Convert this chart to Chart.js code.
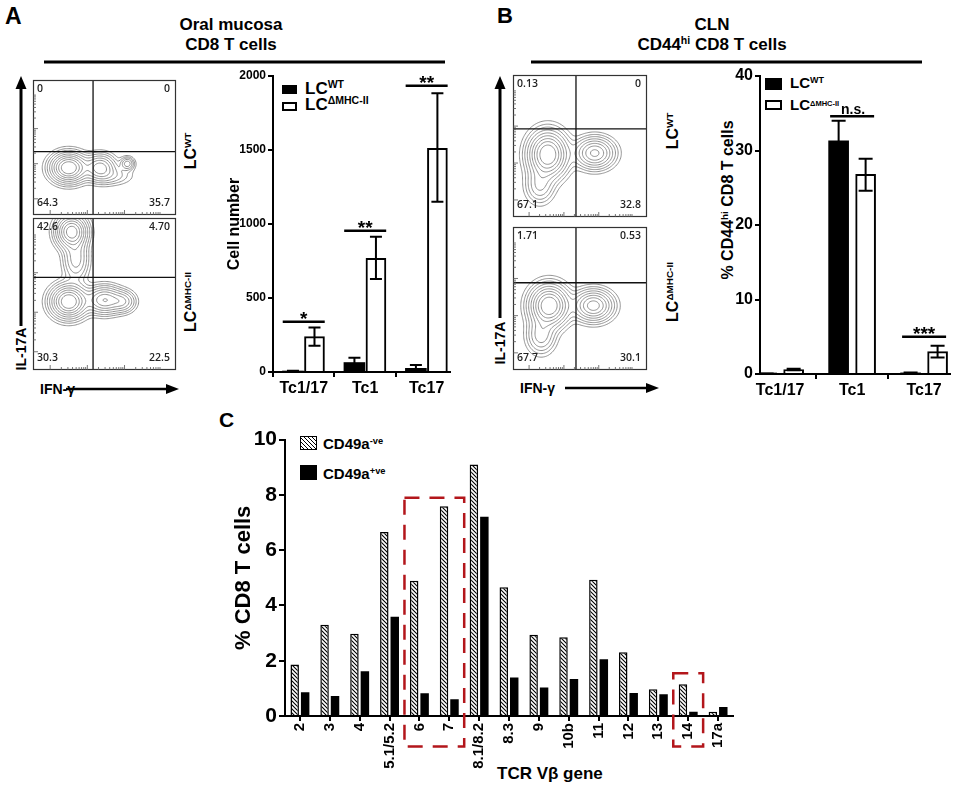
<!DOCTYPE html>
<html><head><meta charset="utf-8">
<script src="https://cdn.jsdelivr.net/npm/chart.js@4.4.0/dist/chart.umd.min.js"></script>
<style>
body{margin:0;background:#fff;}
#root{position:relative;width:959px;height:787px;overflow:hidden;font-family:'Liberation Sans',Arial,sans-serif;font-weight:bold;color:#000;background:#fff}
canvas{position:absolute;display:block}
.t{position:absolute;white-space:nowrap;line-height:1}
.c{position:absolute;white-space:nowrap;line-height:1;transform:translate(-50%,0);text-align:center}
.rot{position:absolute;white-space:nowrap;line-height:1;transform:translate(-50%,-50%) rotate(-90deg)}
sup{font-size:0.62em;vertical-align:0.55em;line-height:0}
.box{position:absolute;box-sizing:border-box}
svg{position:absolute;left:0;top:0}
</style></head>
<body><div id="root">
<svg width="959" height="787">
  <line x1="44" y1="62" x2="445" y2="62" stroke="#000" stroke-width="3"/>
  <line x1="531" y1="62" x2="922" y2="62" stroke="#000" stroke-width="3"/>
  <line x1="21" y1="326" x2="21" y2="86" stroke="#000" stroke-width="3"/>
  <polygon points="21,76 15.5,89 26.5,89" fill="#000"/>
  <line x1="500" y1="318" x2="500" y2="86" stroke="#000" stroke-width="3"/>
  <polygon points="500,76 494.5,89 505.5,89" fill="#000"/>
  <line x1="66" y1="389" x2="168" y2="389" stroke="#000" stroke-width="2.5"/>
  <polygon points="179,389 166,384 166,394" fill="#000"/>
  <line x1="565" y1="388" x2="648" y2="388" stroke="#000" stroke-width="2.5"/>
  <polygon points="659,388 646,383 646,393" fill="#000"/>
</svg>

<div class="t" style="left:5px;top:5px;font-size:23px">A</div>
<div class="t" style="left:497px;top:5px;font-size:22px">B</div>
<div class="t" style="left:219px;top:409px;font-size:21px">C</div>

<div class="c" style="left:231px;top:16px;font-size:17px">Oral mucosa</div>
<div class="c" style="left:231px;top:36px;font-size:17px">CD8 T cells</div>
<div class="c" style="left:712px;top:16px;font-size:17px">CLN</div>
<div class="c" style="left:712px;top:36px;font-size:17px">CD44<sup>hi</sup> CD8 T cells</div>

<div class="rot" style="left:191px;top:151px;font-size:16px">LC<sup>WT</sup></div>
<div class="rot" style="left:191px;top:302px;font-size:16px">LC<sup>ΔMHC-II</sup></div>
<div class="rot" style="left:673px;top:131px;font-size:16px">LC<sup>WT</sup></div>
<div class="rot" style="left:673px;top:292px;font-size:16px">LC<sup>ΔMHC-II</sup></div>

<div class="rot" style="left:21px;top:349px;font-size:14px">IL-17A</div>
<div class="rot" style="left:500px;top:343px;font-size:14px">IL-17A</div>
<div class="t" style="left:40px;top:382px;font-size:14px">IFN-γ</div>
<div class="t" style="left:520px;top:381px;font-size:14px">IFN-γ</div>

<div class="box" style="left:282px;top:85px;width:15px;height:9px;background:#000"></div>
<div class="t" style="left:305px;top:80px;font-size:17px">LC<sup>WT</sup></div>
<div class="box" style="left:282px;top:102px;width:15px;height:9px;background:#fff;border:2px solid #000"></div>
<div class="t" style="left:305px;top:96px;font-size:17px">LC<sup>ΔMHC-II</sup></div>

<div class="box" style="left:765px;top:78px;width:17px;height:12px;background:#000"></div>
<div class="t" style="left:790px;top:75px;font-size:15px">LC<sup style="font-size:9px">WT</sup></div>
<div class="box" style="left:765px;top:100px;width:17px;height:10px;background:#fff;border:2px solid #000"></div>
<div class="t" style="left:790px;top:97px;font-size:15px">LC<sup style="font-size:7.5px">ΔMHC-II</sup></div>
<div class="rot" style="left:728px;top:200px;font-size:16px">% CD44<sup>hi</sup> CD8 T cells</div>

<div class="box" style="left:300px;top:436px;width:17px;height:14px;border:1.5px solid #000;background:repeating-linear-gradient(45deg,#fff 0,#fff 1.6px,#000 1.6px,#000 2.8px)"></div>
<div class="t" style="left:323px;top:436px;font-size:15px">CD49a<sup>-ve</sup></div>
<div class="box" style="left:300px;top:465px;width:17px;height:15px;background:#000"></div>
<div class="t" style="left:323px;top:466px;font-size:15px">CD49a<sup>+ve</sup></div>
<div class="t" style="left:497px;top:765px;font-size:17px">TCR Vβ gene</div>

<canvas id="fA1" width="147" height="139" style="left:31px;top:78px"></canvas>
<canvas id="fA2" width="147" height="156" style="left:31px;top:216px"></canvas>
<canvas id="fB1" width="138" height="146" style="left:511px;top:73px"></canvas>
<canvas id="fB2" width="138" height="147" style="left:511px;top:225px"></canvas>
<canvas id="barA" width="265" height="345" style="left:200px;top:62px"></canvas>
<canvas id="barB" width="269" height="345" style="left:690px;top:62px"></canvas>
<canvas id="barC" width="530" height="362" style="left:220px;top:425px"></canvas>
</div>
<script>
// ---------------- DATA ----------------
// Panel A bar chart (cell number)
const catsA = ['Tc1/17', 'Tc1', 'Tc17'];
const wtA = [5, 64, 25];
const wtALow = [2, 30, 3];
const wtAHigh = [8, 97, 47];
const mhcA = [239, 768, 1511];
const mhcALow = [178, 628, 1151];
const mhcAHigh = [300, 914, 1883];
const sigALabels = ['*', '**', '**'];
const sigAY = [340, 955, 1934];
const ticksA = [0, 500, 1000, 1500, 2000];

// Panel B bar chart (% CD44hi CD8 T cells)
const catsB = ['Tc1/17', 'Tc1', 'Tc17'];
const wtB = [0.05, 31.3, 0.15];
const wtBLow = [0.02, 28.6, 0.1];
const wtBHigh = [0.08, 34.0, 0.2];
const mhcB = [0.6, 26.8, 3.0];
const mhcBLow = [0.5, 24.6, 2.2];
const mhcBHigh = [0.7, 28.9, 3.8];
const sigBLabels = [null, 'n.s.', '***'];
const sigBY = [null, 34.6, 5.0];
const ticksB = [0, 10, 20, 30, 40];

// Panel C (TCR Vbeta usage)
const catsC = ['2', '3', '4', '5.1/5.2', '6', '7', '8.1/8.2', '8.3', '9', '10b', '11', '12', '13', '14', '17a'];
const cd49aNeg = [1.86, 3.3, 2.98, 6.66, 4.89, 7.59, 9.1, 4.66, 2.94, 2.85, 4.93, 2.31, 0.97, 1.15, 0.15];
const cd49aPos = [0.86, 0.72, 1.62, 3.59, 0.82, 0.61, 7.21, 1.39, 1.03, 1.34, 2.05, 0.83, 0.79, 0.15, 0.33];
const redBoxFrom = [3.5, 12.5];
const redBoxTo = [5.5, 13.5];
const redBoxTop = [7.9, 1.55];
const redBoxBottom = [-1.1, -1.1];

// Flow cytometry plots (IFN-gamma vs IL-17A, % of gate)
const flowIds = ['fA1', 'fA2', 'fB1', 'fB2'];
const gateX = [42, 42, 47, 47];
const gateY = [47, 61, 62, 61];
const quadUL = ['0', '42.6', '0.13', '1.71'];
const quadUR = ['0', '4.70', '0', '0.53'];
const quadLL = ['64.3', '30.3', '67.1', '67.7'];
const quadLR = ['35.7', '22.5', '32.8', '30.1'];
// population clusters: [centre x, centre y, spread x, spread y, weight]
const popsA1 = [[25, 35, 7, 6, 1], [47, 35, 6, 5.5, 0.55], [66, 38, 2.8, 2.8, 0.3], [56, 29, 8, 4, 0.12]];
const popsA2 = [[27, 91, 6, 6, 0.9], [30, 73, 5, 8, 0.3], [25, 45, 7, 6, 1], [50, 46, 7, 5, 0.6], [63, 45, 5, 4, 0.3]];
const popsB1 = [[26, 44, 8, 9, 1], [61, 45, 8, 6, 0.65], [20, 22, 6, 7, 0.25]];
const popsB2 = [[27, 45, 8, 8, 1], [60, 45, 8, 6, 0.7], [21, 24, 6, 7, 0.3]];
const flowPops = [popsA1, popsA2, popsB1, popsB2];
const contourLevels = [0.03, 0.06, 0.1, 0.16, 0.24, 0.34, 0.46, 0.6, 0.76];
const flowDecades = [12, 38, 64];

// ---------------- SETUP ----------------
const SANS = "'Liberation Sans', Arial, sans-serif";
Chart.defaults.font.family = SANS;
Chart.defaults.color = '#000';
Chart.defaults.animation = false;

const errPlugin = {
  id: 'errbars',
  afterDatasetsDraw(chart, args, opts) {
    const ctx = chart.ctx, ys = chart.scales.y, xs = chart.scales.x;
    ctx.save();
    ctx.strokeStyle = '#000';
    ctx.lineWidth = 2;
    opts.low.forEach((lows, di) => {
      const meta = chart.getDatasetMeta(di);
      meta.data.forEach((bar, i) => {
        const x = bar.x, yl = ys.getPixelForValue(lows[i]), yh = ys.getPixelForValue(opts.high[di][i]);
        const h = opts.cap / 2;
        ctx.beginPath();
        ctx.moveTo(x, yl); ctx.lineTo(x, yh);
        ctx.moveTo(x - h, yh); ctx.lineTo(x + h, yh);
        ctx.moveTo(x - h, yl); ctx.lineTo(x + h, yl);
        ctx.stroke();
      });
    });
    ctx.lineWidth = 2.5;
    ctx.fillStyle = '#000';
    ctx.textAlign = 'center';
    ctx.textBaseline = 'alphabetic';
    opts.sigLabels.forEach((lab, i) => {
      if (!lab) return;
      const cx = xs.getPixelForValue(i), py = ys.getPixelForValue(opts.sigY[i]);
      ctx.beginPath();
      ctx.moveTo(cx - opts.sigHalf, py); ctx.lineTo(cx + opts.sigHalf, py);
      ctx.stroke();
      if (lab.indexOf('*') >= 0) {
        ctx.font = 'bold 19px ' + SANS;
        ctx.fillText(lab, cx, py + 3);
      } else {
        ctx.font = 'bold 14px ' + SANS;
        ctx.fillText(lab, cx + 1, py - 2);
      }
    });
    ctx.restore();
  }
};

function barOptions(cfg) {
  return {
    responsive: false,
    animation: false,
    layout: { padding: cfg.padding },
    plugins: { legend: { display: false }, tooltip: { enabled: false }, errbars: cfg.err },
    scales: {
      x: {
        type: 'linear', min: cfg.xmin, max: cfg.xmax, offset: false,
        afterBuildTicks: s => { s.ticks = cfg.cats.map((c, i) => ({ value: i })); },
        afterFit: s => { s.height = cfg.xh; },
        ticks: { callback: v => cfg.cats[v], font: { size: cfg.xfont, weight: 'bold' }, color: '#000', padding: 2, maxRotation: 0, autoSkip: false },
        grid: { drawOnChartArea: false, drawTicks: true, tickLength: 5, color: '#000', lineWidth: 2 },
        border: { color: '#000', width: 2 }
      },
      y: {
        min: 0, max: cfg.ymax,
        afterBuildTicks: s => { s.ticks = cfg.yticks.map(v => ({ value: v })); },
        afterFit: s => { s.width = cfg.yw; },
        ticks: { callback: v => String(v), font: { size: cfg.yfont, weight: 'bold' }, color: '#000', padding: 2 },
        grid: { drawOnChartArea: false, drawTicks: true, tickLength: 5, color: '#000', lineWidth: 2 },
        border: { color: '#000', width: 2 },
        title: cfg.ytitle ? { display: true, text: cfg.ytitle, font: { size: 16, weight: 'bold' }, color: '#000', padding: { top: 4, bottom: 4 } } : { display: false }
      }
    }
  };
}

// bars are placed side by side around each category position
function xy(arr, shift) { return arr.map((v, i) => ({ x: i + shift, y: v })); }

// Panel A bar chart
new Chart(document.getElementById('barA'), {
  type: 'bar',
  data: {
    datasets: [
      { label: 'LC WT', data: xy(wtA, -0.175), backgroundColor: '#000', borderColor: '#000', borderWidth: 0, barThickness: 21, grouped: false },
      { label: 'LC ΔMHC-II', data: xy(mhcA, 0.175), backgroundColor: '#fff', borderColor: '#000', borderWidth: 2, barThickness: 20, grouped: false }
    ]
  },
  options: barOptions({
    padding: { left: 21.4, top: 14, right: 15, bottom: 0 },
    cats: catsA, xmin: -0.5, xmax: 2.38, xh: 35, xfont: 16,
    ymax: 2000, yticks: ticksA, yw: 51.6, yfont: 12,
    ytitle: 'Cell number',
    err: { low: [wtALow, mhcALow], high: [wtAHigh, mhcAHigh], cap: 12, sigLabels: sigALabels, sigY: sigAY, sigHalf: 21 }
  }),
  plugins: [errPlugin]
});

// Panel B bar chart
new Chart(document.getElementById('barB'), {
  type: 'bar',
  data: {
    datasets: [
      { label: 'LC WT', data: xy(wtB, -0.1875), backgroundColor: '#000', borderColor: '#000', borderWidth: 0, barThickness: 20, grouped: false },
      { label: 'LC ΔMHC-II', data: xy(mhcB, 0.1875), backgroundColor: '#fff', borderColor: '#000', borderWidth: 2, barThickness: 20, grouped: false }
    ]
  },
  options: barOptions({
    padding: { left: 0, top: 14, right: 9, bottom: 0 },
    cats: catsB, xmin: -0.28, xmax: 2.36, xh: 33, xfont: 16,
    ymax: 40, yticks: ticksB, yw: 70, yfont: 16,
    ytitle: null,
    err: { low: [wtBLow, mhcBLow], high: [wtBHigh, mhcBHigh], cap: 14, sigLabels: sigBLabels, sigY: sigBY, sigHalf: 22 }
  }),
  plugins: [errPlugin]
});

// Panel C
function hatchPattern() {
  const c = document.createElement('canvas');
  c.width = 4; c.height = 4;
  const g = c.getContext('2d');
  g.fillStyle = '#fff'; g.fillRect(0, 0, 4, 4);
  g.strokeStyle = '#000'; g.lineWidth = 1.1;
  g.beginPath();
  g.moveTo(-1, -1); g.lineTo(5, 5);
  g.moveTo(3, -1); g.lineTo(5, 1);
  g.moveTo(-1, 3); g.lineTo(1, 5);
  g.stroke();
  return document.getElementById('barC').getContext('2d').createPattern(c, 'repeat');
}
const redBoxPlugin = {
  id: 'redboxes',
  afterDraw(chart) {
    const ctx = chart.ctx, xs = chart.scales.x, ys = chart.scales.y;
    ctx.save();
    ctx.strokeStyle = '#b3161b';
    ctx.lineWidth = 2.5;
    ctx.setLineDash([15, 10]);
    redBoxFrom.forEach((f, i) => {
      const x0 = xs.getPixelForValue(f), x1 = xs.getPixelForValue(redBoxTo[i]);
      const y0 = ys.getPixelForValue(redBoxTop[i]), y1 = ys.getPixelForValue(redBoxBottom[i]);
      ctx.beginPath();
      ctx.moveTo(x0, y0); ctx.lineTo(x1, y0); ctx.lineTo(x1, y1); ctx.lineTo(x0, y1); ctx.closePath();
      ctx.stroke();
    });
    ctx.restore();
  }
};
new Chart(document.getElementById('barC'), {
  type: 'bar',
  data: {
    labels: catsC,
    datasets: [
      { label: 'CD49a-ve', data: cd49aNeg, backgroundColor: hatchPattern(), borderColor: '#000', borderWidth: 1.5 },
      { label: 'CD49a+ve', data: cd49aPos, backgroundColor: '#000', borderColor: '#000', borderWidth: 0 }
    ]
  },
  options: {
    responsive: false,
    animation: false,
    layout: { padding: { left: 6.8, top: 13, right: 17, bottom: 0 } },
    plugins: { legend: { display: false }, tooltip: { enabled: false } },
    datasets: { bar: { categoryPercentage: 0.70, barPercentage: 0.81 } },
    scales: {
      x: {
        afterFit: s => { s.height = 71; },
        ticks: { font: { size: 15, weight: 'bold' }, color: '#000', minRotation: 90, maxRotation: 90, autoSkip: false, padding: 2 },
        grid: { offset: false, drawOnChartArea: false, drawTicks: true, tickLength: 5, color: '#000', lineWidth: 2 },
        border: { color: '#000', width: 2 }
      },
      y: {
        min: 0, max: 10,
        afterFit: s => { s.width = 58.2; },
        ticks: { stepSize: 2, font: { size: 21, weight: 'bold' }, color: '#000', padding: 2 },
        grid: { drawOnChartArea: false, drawTicks: true, tickLength: 6, color: '#000', lineWidth: 2 },
        border: { color: '#000', width: 2 },
        title: { display: true, text: '% CD8 T cells', font: { size: 22, weight: 'bold' }, color: '#000', padding: { top: 4, bottom: 4 } }
      }
    }
  },
  plugins: [redBoxPlugin]
});

// Flow plots
function densityGrid(pops, n) {
  const g = [];
  for (let j = 0; j <= n; j++) {
    const row = [];
    for (let i = 0; i <= n; i++) {
      const x = i * 100 / n, y = j * 100 / n;
      let d = 0;
      for (const p of pops) {
        const dx = (x - p[0]) / p[2], dy = (y - p[1]) / p[3];
        d += p[4] * Math.exp(-0.5 * (dx * dx + dy * dy));
      }
      row.push(d);
    }
    g.push(row);
  }
  return g;
}
function contourSegs(g, n, level) {
  const segs = [], st = 100 / n;
  for (let j = 0; j < n; j++) for (let i = 0; i < n; i++) {
    const v0 = g[j][i], v1 = g[j][i + 1], v2 = g[j + 1][i + 1], v3 = g[j + 1][i];
    const x0 = i * st, y0 = j * st, p = [];
    if ((v0 >= level) !== (v1 >= level)) p.push([x0 + st * (level - v0) / (v1 - v0), y0]);
    if ((v1 >= level) !== (v2 >= level)) p.push([x0 + st, y0 + st * (level - v1) / (v2 - v1)]);
    if ((v3 >= level) !== (v2 >= level)) p.push([x0 + st * (level - v3) / (v2 - v3), y0 + st]);
    if ((v0 >= level) !== (v3 >= level)) p.push([x0, y0 + st * (level - v0) / (v3 - v0)]);
    if (p.length === 2) segs.push(p);
    else if (p.length === 4) { segs.push([p[0], p[1]]); segs.push([p[2], p[3]]); }
  }
  return segs;
}
const flowPlugin = {
  id: 'flow',
  beforeDatasetsDraw(chart, args, opts) {
    const ctx = chart.ctx, xs = chart.scales.x, ys = chart.scales.y, a = chart.chartArea;
    const n = 120, g = densityGrid(opts.pops, n);
    let mx = 0; g.forEach(r => r.forEach(v => { if (v > mx) mx = v; }));
    ctx.save();
    ctx.beginPath(); ctx.rect(a.left, a.top, a.right - a.left, a.bottom - a.top); ctx.clip();
    ctx.strokeStyle = '#858585'; ctx.lineWidth = 0.9;
    contourLevels.forEach(lv => {
      const segs = contourSegs(g, n, lv * mx);
      ctx.beginPath();
      segs.forEach(s => {
        ctx.moveTo(xs.getPixelForValue(s[0][0]), ys.getPixelForValue(s[0][1]));
        ctx.lineTo(xs.getPixelForValue(s[1][0]), ys.getPixelForValue(s[1][1]));
      });
      ctx.stroke();
    });
    ctx.restore();
  },
  afterDraw(chart, args, opts) {
    const ctx = chart.ctx, xs = chart.scales.x, ys = chart.scales.y, a = chart.chartArea;
    ctx.save();
    ctx.strokeStyle = '#333'; ctx.lineWidth = 1.2;
    ctx.strokeRect(a.left + 0.5, a.top + 0.5, a.right - a.left - 1, a.bottom - a.top - 1);
    ctx.lineWidth = 0.8; ctx.strokeStyle = '#555';
    ctx.beginPath();
    const minor = [0.301, 0.477, 0.602, 0.699, 0.778, 0.845, 0.903, 0.954];
    flowDecades.forEach(d => {
      const py = ys.getPixelForValue(d), px = xs.getPixelForValue(d);
      ctx.moveTo(a.left, py); ctx.lineTo(a.left + 5, py);
      ctx.moveTo(px, a.bottom); ctx.lineTo(px, a.bottom - 5);
      minor.forEach(m => {
        const v = d + 26 * m;
        if (v < 100) {
          const my = ys.getPixelForValue(v), mxp = xs.getPixelForValue(v);
          ctx.moveTo(a.left, my); ctx.lineTo(a.left + 3, my);
          ctx.moveTo(mxp, a.bottom); ctx.lineTo(mxp, a.bottom - 3);
        }
      });
    });
    ctx.stroke();
    ctx.fillStyle = '#222';
    ctx.font = '600 10.5px "Open Sans", "DejaVu Sans", sans-serif';
    ctx.textBaseline = 'middle';
    ctx.textAlign = 'left';
    ctx.fillText(opts.ul, a.left + 4, a.top + 9);
    ctx.fillText(opts.ll, a.left + 4, a.bottom - 12);
    ctx.textAlign = 'right';
    ctx.fillText(opts.ur, a.right - 6, a.top + 9);
    ctx.fillText(opts.lr, a.right - 6, a.bottom - 12);
    ctx.restore();
  }
};
flowIds.forEach((id, k) => {
  new Chart(document.getElementById(id), {
    type: 'scatter',
    data: {
      datasets: [
        { data: [{ x: gateX[k], y: 0 }, { x: gateX[k], y: 100 }], showLine: true, borderColor: '#111', borderWidth: 1.3, pointRadius: 0 },
        { data: [{ x: 0, y: gateY[k] }, { x: 100, y: gateY[k] }], showLine: true, borderColor: '#111', borderWidth: 1.3, pointRadius: 0 }
      ]
    },
    options: {
      responsive: false,
      animation: false,
      layout: { padding: 2 },
      plugins: { legend: { display: false }, tooltip: { enabled: false },
        flow: { pops: flowPops[k], ul: quadUL[k], ur: quadUR[k], ll: quadLL[k], lr: quadLR[k] } },
      scales: { x: { min: 0, max: 100, display: false }, y: { min: 0, max: 100, display: false } }
    },
    plugins: [flowPlugin]
  });
});
</script>
</body></html>
